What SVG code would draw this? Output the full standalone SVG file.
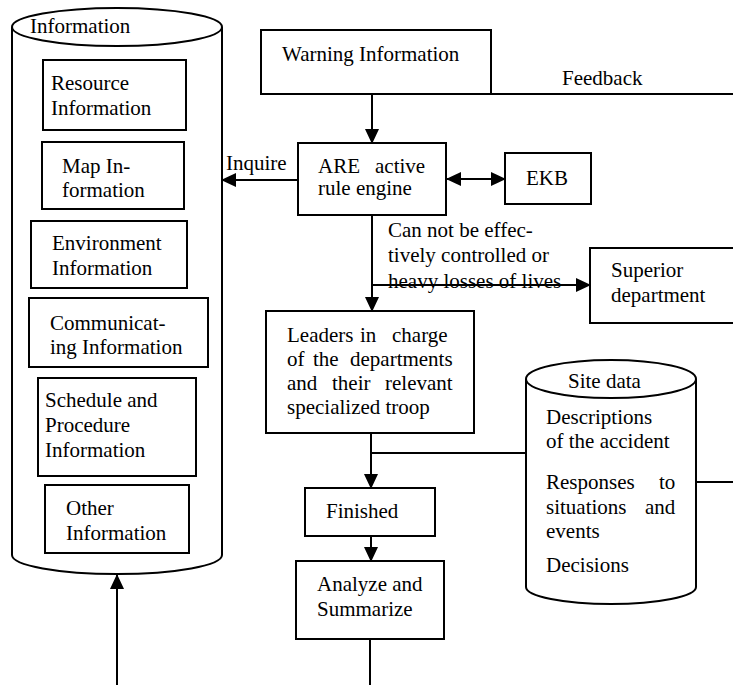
<svg xmlns="http://www.w3.org/2000/svg" width="733" height="685" viewBox="0 0 733 685">
<style>
text{font-family:"Liberation Serif","Times New Roman",serif;font-size:21px;fill:#000}
.b{fill:#fff;stroke:#000;stroke-width:2}
.l{fill:none;stroke:#000;stroke-width:2}
</style>
<defs>
<marker id="ah" markerUnits="userSpaceOnUse" markerWidth="16" markerHeight="14" refX="14" refY="7" orient="auto-start-reverse" viewBox="0 0 16 14">
<path d="M0,0 L15,7 L0,14 Z" fill="#000"/>
</marker>
</defs>
<rect width="733" height="685" fill="#fff"/>
<g id="info-db">
<path class="b" d="M12,27 L12,555 A105,19 0 0 0 222,555 L222,27"/>
<ellipse class="b" cx="117" cy="27" rx="105" ry="19"/>
<text x="30" y="33">Information</text>
</g>
<g id="resource">
<rect class="b" x="43" y="60" width="143" height="70"/>
<text x="51" y="90">Resource</text><text x="51" y="115">Information</text>
</g>
<g id="map">
<rect class="b" x="42" y="142" width="142" height="67"/>
<text x="62" y="173">Map In-</text><text x="62" y="197">formation</text>
</g>
<g id="environment">
<rect class="b" x="31" y="221" width="156" height="67"/>
<text x="52" y="250">Environment</text><text x="52" y="275">Information</text>
</g>
<g id="communicating">
<rect class="b" x="29" y="298" width="179" height="69"/>
<text x="50" y="330">Communicat-</text><text x="50" y="354">ing Information</text>
</g>
<g id="schedule">
<rect class="b" x="38" y="378" width="158" height="98"/>
<text x="45" y="407">Schedule and</text><text x="45" y="432">Procedure</text><text x="45" y="457">Information</text>
</g>
<g id="other">
<rect class="b" x="45" y="485" width="144" height="68"/>
<text x="66" y="515">Other</text><text x="66" y="540">Information</text>
</g>
<g id="warning">
<rect class="b" x="261" y="30" width="230" height="64"/>
<text x="282" y="61">Warning Information</text>
</g>
<g id="are">
<rect class="b" x="298" y="143" width="148" height="72"/>
<text x="318" y="173">ARE<tspan x="375">active</tspan></text>
<text x="318" y="195">rule engine</text>
</g>
<g id="ekb">
<rect class="b" x="505" y="153" width="86" height="51"/>
<text x="526" y="185">EKB</text>
</g>
<g id="superior">
<rect class="b" x="590" y="248" width="150" height="75"/>
<text x="611" y="277">Superior</text><text x="611" y="302">department</text>
</g>
<g id="leaders">
<rect class="b" x="266" y="311" width="208" height="122"/>
<text y="342"><tspan x="287">Leaders</tspan><tspan x="360">in</tspan><tspan x="392">charge</tspan></text>
<text y="366"><tspan x="287">of</tspan><tspan x="313">the</tspan><tspan x="350">departments</tspan></text>
<text y="390"><tspan x="287">and</tspan><tspan x="332">their</tspan><tspan x="385">relevant</tspan></text>
<text x="287" y="414">specialized troop</text>
</g>
<g id="finished">
<rect class="b" x="305" y="488" width="130" height="48"/>
<text x="326" y="518">Finished</text>
</g>
<g id="analyze">
<rect class="b" x="296" y="561" width="148" height="78"/>
<text x="317" y="591">Analyze and</text><text x="317" y="616">Summarize</text>
</g>
<g id="site-db">
<path class="b" d="M526,379 L526,587 A85,17 0 0 0 696,587 L696,379"/>
<ellipse class="b" cx="611" cy="379" rx="85" ry="19"/>
<text x="568" y="388">Site data</text>
<text x="546" y="424">Descriptions</text>
<text x="546" y="448">of the accident</text>
<text y="489"><tspan x="546">Responses</tspan><tspan x="659">to</tspan></text>
<text y="514"><tspan x="546">situations</tspan><tspan x="645">and</tspan></text>
<text x="546" y="538">events</text>
<text x="546" y="572">Decisions</text>
</g>
<g id="connectors">
<line class="l" x1="372" y1="94" x2="372" y2="143" marker-end="url(#ah)"/>
<line class="l" x1="491" y1="94" x2="733" y2="94"/>
<text x="562" y="85">Feedback</text>
<line class="l" x1="298" y1="180" x2="222" y2="180" marker-end="url(#ah)"/>
<text x="226" y="170">Inquire</text>
<line class="l" x1="447" y1="179" x2="505" y2="179" marker-start="url(#ah)" marker-end="url(#ah)"/>
<line class="l" x1="372" y1="215" x2="372" y2="311" marker-end="url(#ah)"/>
<text x="388" y="237">Can not be effec-</text>
<text x="388" y="262">tively controlled or</text>
<text x="388" y="288">heavy losses of lives</text>
<line class="l" x1="372" y1="285" x2="590" y2="285" marker-end="url(#ah)"/>
<line class="l" x1="371" y1="433" x2="371" y2="488" marker-end="url(#ah)"/>
<line class="l" x1="526" y1="453" x2="371" y2="453"/>
<line class="l" x1="371" y1="536" x2="371" y2="561" marker-end="url(#ah)"/>
<line class="l" x1="370" y1="639" x2="370" y2="685"/>
<line class="l" x1="696" y1="482" x2="733" y2="482"/>
<line class="l" x1="117" y1="685" x2="117" y2="575" marker-end="url(#ah)"/>
</g>
</svg>
